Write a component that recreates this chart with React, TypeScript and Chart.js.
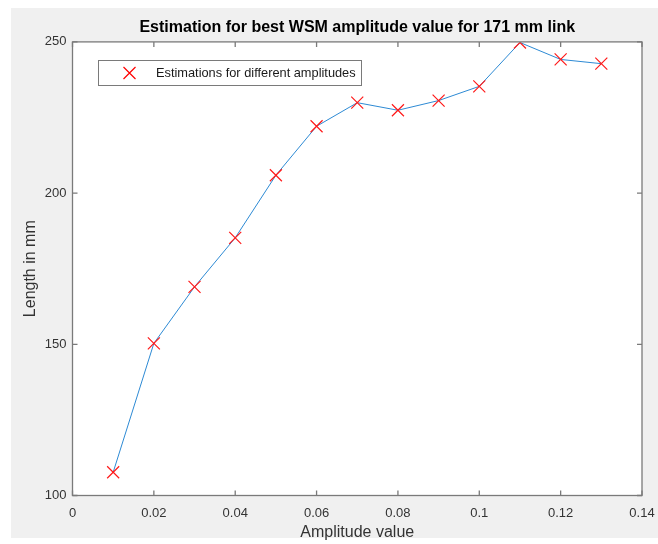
import React, { useEffect, useRef } from "react";
import { Chart, registerables } from "chart.js";

Chart.register(...registerables);

const amplitudes = [0.01, 0.02, 0.03, 0.04, 0.05, 0.06, 0.07, 0.08, 0.09, 0.1, 0.11, 0.12, 0.13];
const lengths = [107.7, 150.3, 169.0, 185.2, 205.9, 222.1, 229.9, 227.4, 230.6, 235.3, 249.8, 244.2, 242.8];
const xTicks = [0, 0.02, 0.04, 0.06, 0.08, 0.1, 0.12, 0.14];
const yTicks = [100, 150, 200, 250];
const titleText = "Estimation for best WSM amplitude value for 171 mm link";
const xLabel = "Amplitude value";
const yLabel = "Length in mm";
const legendLabel = "Estimations for different amplitudes";

const FONT = "'Liberation Sans', Arial, Helvetica, sans-serif";
const FRAME = "#7a7a7a";

const framePlugin = {
  id: "matlabFrame",
  beforeDraw(chart: any) {
    const { ctx, chartArea: a } = chart;
    ctx.save();
    ctx.fillStyle = "#ffffff";
    ctx.fillRect(0, 0, chart.width, chart.height);
    ctx.fillStyle = "#f0f0f0";
    ctx.fillRect(11, 8, chart.width - 11, 530);
    ctx.fillStyle = "#ffffff";
    ctx.fillRect(a.left, a.top, a.right - a.left, a.bottom - a.top);
    ctx.restore();
  },
  afterDatasetsDraw(chart: any) {
    const { ctx, chartArea: a, scales } = chart;
    ctx.save();
    ctx.strokeStyle = FRAME;
    ctx.lineWidth = 1.3;
    ctx.strokeRect(a.left, a.top, a.right - a.left, a.bottom - a.top);
    const tl = 5;
    ctx.beginPath();
    for (const t of xTicks) {
      const px = scales.x.getPixelForValue(t);
      ctx.moveTo(px, a.bottom);
      ctx.lineTo(px, a.bottom - tl);
      ctx.moveTo(px, a.top);
      ctx.lineTo(px, a.top + tl);
    }
    for (const t of yTicks) {
      const py = scales.y.getPixelForValue(t);
      ctx.moveTo(a.left, py);
      ctx.lineTo(a.left + tl, py);
      ctx.moveTo(a.right, py);
      ctx.lineTo(a.right - tl, py);
    }
    ctx.stroke();

    // legend box
    const bx = 98, by = 60, bw = 263, bh = 25;
    ctx.fillStyle = "#ffffff";
    ctx.fillRect(bx, by, bw, bh);
    ctx.strokeStyle = FRAME;
    ctx.lineWidth = 1;
    ctx.strokeRect(bx + 0.5, by + 0.5, bw, bh);
    const mx = 129.5, my = by + bh / 2 + 0.5, r = 6;
    ctx.strokeStyle = "#ff0000";
    ctx.lineWidth = 1.2;
    ctx.beginPath();
    ctx.moveTo(mx - r, my - r);
    ctx.lineTo(mx + r, my + r);
    ctx.moveTo(mx - r, my + r);
    ctx.lineTo(mx + r, my - r);
    ctx.stroke();
    ctx.fillStyle = "#1a1a1a";
    ctx.font = `12.8px ${FONT}`;
    ctx.textBaseline = "middle";
    ctx.textAlign = "left";
    ctx.fillText(legendLabel, 156, my);
    ctx.restore();
  },
};

export default function App() {
  const ref = useRef<HTMLCanvasElement>(null);
  useEffect(() => {
    if (!ref.current) return;
    const chart = new Chart(ref.current, {
      type: "scatter",
      data: {
        datasets: [
          {
            label: legendLabel,
            data: amplitudes.map((x, i) => ({ x, y: lengths[i] })),
            showLine: true,
            borderColor: "#2d8ad4",
            borderWidth: 1,
            pointStyle: "crossRot",
            pointRadius: 8.5,
            pointHoverRadius: 8.5,
            pointBorderColor: "#ff1a1a",
            pointBackgroundColor: "#ff1a1a",
            pointBorderWidth: 1.2,
          } as any,
        ],
      },
      options: {
        responsive: false,
        animation: false,
        layout: { padding: { left: 0, right: 16, top: 0, bottom: 0 } },
        plugins: {
          legend: { display: false },
          tooltip: { enabled: false },
          title: {
            display: true,
            fullSize: false,
            text: titleText,
            color: "#000000",
            font: { family: FONT, size: 16, weight: "bold" },
            padding: { top: 17.5, bottom: 5.2 },
          },
        },
        scales: {
          x: {
            type: "linear",
            min: 0,
            max: 0.14,
            grid: { display: false, drawTicks: false },
            border: { display: false },
            afterBuildTicks: (s: any) => {
              s.ticks = xTicks.map((v) => ({ value: v }));
            },
            afterFit: (s: any) => {
              s.height = 48.5;
              s.paddingLeft = 0;
              s.paddingRight = 0;
            },
            ticks: {
              color: "#333333",
              font: { family: FONT, size: 13 },
              padding: 10,
              maxRotation: 0,
              callback: (v: any) => String(Number(v.toFixed(2))),
            },
            title: {
              display: true,
              text: xLabel,
              color: "#333333",
              font: { family: FONT, size: 16 },
              padding: { top: 0, bottom: 1.4 },
            },
          },
          y: {
            type: "linear",
            min: 100,
            max: 250,
            grid: { display: false, drawTicks: false },
            border: { display: false },
            afterBuildTicks: (s: any) => {
              s.ticks = yTicks.map((v) => ({ value: v }));
            },
            afterFit: (s: any) => {
              s.width = 72.5;
              s.paddingTop = 0;
              s.paddingBottom = 0;
            },
            ticks: {
              color: "#333333",
              font: { family: FONT, size: 13 },
              padding: 6,
            },
            title: {
              display: true,
              text: yLabel,
              color: "#333333",
              font: { family: FONT, size: 16 },
              padding: { top: 21.4, bottom: 0 },
            },
          },
        },
      },
      plugins: [framePlugin],
    });
    return () => chart.destroy();
  }, []);
  return (
    <div style={{ position: "absolute", left: 0, top: 0, width: 658, height: 544 }}>
      <canvas ref={ref} width={658} height={544} style={{ display: "block" }} />
    </div>
  );
}
